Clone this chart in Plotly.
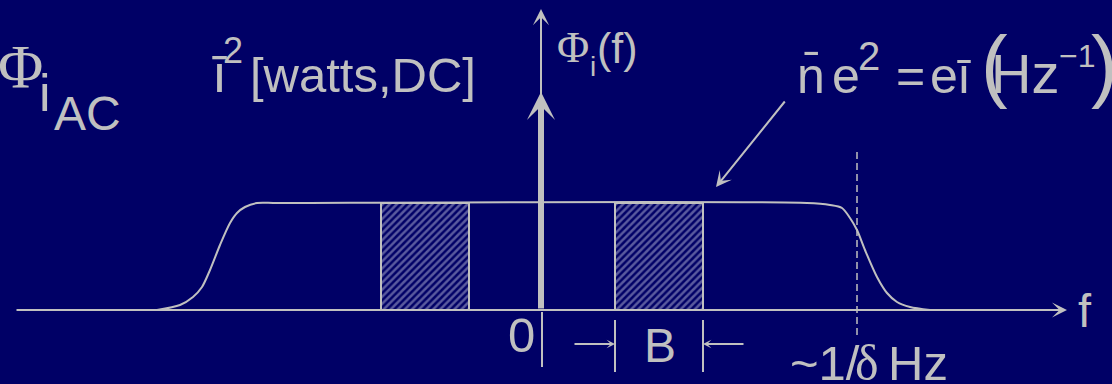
import plotly.graph_objects as go

# Spectral density sketch: frequency f (horizontal) vs. density level (vertical)
NAVY = "#000066"
SILVER = "#C0C0C0"
SANS = "Liberation Sans, Arial, sans-serif"
SERIF = "Liberation Serif, Times New Roman, serif"

# Shot-noise floor with roll-off at both ends
rise_f = [-384, -361, -348, -339, -331, -321, -311, -304, -296, -284, -264]
rise_phi = [0, 5, 13, 23, 40, 65, 87, 97, 103, 107, 107]
fall_f = [266, 289, 301, 309, 316, 324, 336, 346, 356, 369, 389]
fall_phi = [107, 105, 102, 92, 80, 60, 33, 17, 8, 3, 0]
plateau = 107

# Measurement bands of width B on either side of f = 0
band_left = [-160, -72]
band_right = [74, 162]

# Axis extents and marker positions
f_axis = [-526, 526]
dc_spike = 218
phi_axis_top = 301
cutoff_f = 316
cutoff_span = [158, -25]
zero_tick = [-2, -57]
b_tick = [-10, -62]
b_arrow_level = -34
b_arrow_len = 42
pointer_tail = [245, 210]
pointer_tip = [175, 123]

fig = go.Figure()


def band(edges):
    a, b = edges
    fig.add_trace(go.Scatter(
        x=[a, a, b, b, a], y=[0, plateau, plateau, 0, 0],
        mode="lines", fill="toself", fillcolor=NAVY,
        fillpattern=dict(shape="/", fgcolor="#b4b4d6", bgcolor=NAVY,
                         size=5, solidity=0.5),
        line=dict(color=SILVER, width=2), hoverinfo="skip"))


band(band_left)
band(band_right)

# density curve
curve_f = rise_f + fall_f
curve_phi = rise_phi + fall_phi
fig.add_trace(go.Scatter(x=curve_f, y=curve_phi, mode="lines",
                         line=dict(color=SILVER, width=2, shape="spline", smoothing=0.8),
                         hoverinfo="skip"))

# small tick below the origin
fig.add_trace(go.Scatter(x=[1, 1], y=zero_tick, mode="lines",
                         line=dict(color=SILVER, width=2), hoverinfo="skip"))

# bandwidth markers
for fb in band_right:
    fig.add_trace(go.Scatter(x=[fb, fb], y=b_tick, mode="lines",
                             line=dict(color=SILVER, width=2), hoverinfo="skip"))

# cut-off frequency marker
fig.add_trace(go.Scatter(x=[cutoff_f, cutoff_f], y=cutoff_span, mode="lines",
                         line=dict(color=SILVER, width=1.5, dash="7px,4px"),
                         hoverinfo="skip"))

arrows = [
    # f axis
    dict(x=f_axis[1], y=0, ax=f_axis[0], ay=0, w=2, s=1.25),
    # thin vertical axis
    dict(x=0, y=phi_axis_top, ax=0, ay=dc_spike - 20, w=2, s=1.35),
    # DC spike
    dict(x=0, y=dc_spike, ax=0, ay=0, w=6, s=0.78),
    # bandwidth arrows
    dict(x=band_right[0], y=b_arrow_level, ax=band_right[0] - b_arrow_len, ay=b_arrow_level, w=2, s=0.7),
    dict(x=band_right[1], y=b_arrow_level, ax=band_right[1] + b_arrow_len, ay=b_arrow_level, w=2, s=0.7),
    # pointer to the plateau
    dict(x=pointer_tip[0], y=pointer_tip[1], ax=pointer_tail[0], ay=pointer_tail[1], w=2, s=1.3),
]
for a in arrows:
    fig.add_annotation(x=a["x"], y=a["y"], ax=a["ax"], ay=a["ay"], xref="x", yref="y",
                       axref="x", ayref="y", text="", showarrow=True, arrowhead=3,
                       arrowwidth=a["w"], arrowsize=a["s"], arrowcolor=SILVER,
                       standoff=0, startstandoff=0)


def label(text, x, baseline, size, family=SANS, xshift=0):
    fig.add_annotation(x=x, y=baseline + 0.35 * size, xref="x", yref="y",
                       text=text, showarrow=False, xanchor="left", yanchor="middle",
                       xshift=xshift, font=dict(family=family, size=size, color=SILVER))


# Φ_i_AC
label("Φ", -541, 222, 62, SERIF, xshift=-4)
label("i", -504, 199, 52)
label("AC", -489, 180, 48)

# ī² [watts, DC]
label("ī", -331, 218, 54)
label("2", -320, 247, 36)
label("[watts,DC]", -293, 218, 49)

# Φ_i(f)
label("Φ", 14, 247, 44, SERIF)
label("i", 47, 234, 28)
label("(f)", 54, 247, 43)

# n̄e² = eī(Hz⁻¹)
label("n\u0304", 254, 217, 50)
label("e", 289, 217, 50)
label("2", 315, 240, 40)
label("=", 353, 217, 50)
label("e", 387, 217, 50)
label("ī", 414, 217, 50)
label("(", 438, 218, 80)
label("Hz", 448, 217, 56)
label("\u22121", 516, 243, 32)
label(")", 548, 218, 80)

# axis labels below
label("0", -35, -42, 49)
label("B", 101, -52, 48)
label("f", 535, -17, 47)
label("~1/", 247, -70, 49)
label("δ", 312, -70, 50, SERIF)
label("Hz", 345, -70, 49)

fig.update_layout(
    width=1112, height=384, margin=dict(l=0, r=0, t=0, b=0),
    paper_bgcolor=NAVY, plot_bgcolor=NAVY, showlegend=False,
    xaxis=dict(range=[-541, 571], visible=False, fixedrange=True),
    yaxis=dict(range=[-74, 310], visible=False, fixedrange=True),
)

fig.write_html("out.html")
